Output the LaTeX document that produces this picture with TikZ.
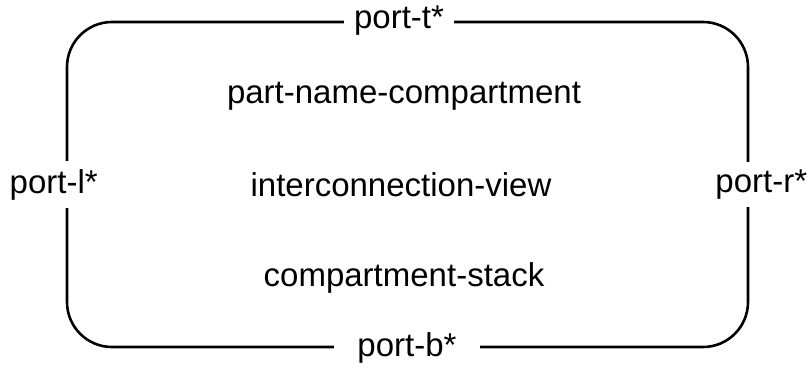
\documentclass[tikz,border=0pt]{standalone}
\usepackage{fontspec}
\setmainfont{Liberation Sans}
\begin{document}
\begin{tikzpicture}[x=1pt,y=1pt,
  lbl/.style={font=\fontsize{33}{40}\selectfont, inner sep=0pt},
  portlbl/.style={lbl, fill=white, inner ysep=8pt},
  framebox/.style={draw, line width=2.6pt, rounded corners=45pt, inner sep=0pt,
    minimum width=681pt, minimum height=325pt}]
\useasboundingbox (0,0) rectangle (809,368);
\node[framebox] (frame) at (407.5,183.5) {};
\node[portlbl, inner xsep=10pt] (portt) at ([xshift=-8.5pt]frame.north) {port-t*};
\node[portlbl, inner xsep=23pt] (portb) at ([xshift=-0.5pt]frame.south) {port-b*};
\node[portlbl, inner xsep=2pt] (portl) at ([xshift=-12pt]frame.west) {port-l*};
\node[portlbl, inner xsep=2pt] (portr) at ([xshift=12pt]frame.east) {port-r*};
\node[lbl] (pname) at (404,272) {part-name-compartment};
\node[lbl] (iview) at (401,183) {interconnection-view};
\node[lbl] (cstack) at (404,90) {compartment-stack};
\end{tikzpicture}
\end{document}
